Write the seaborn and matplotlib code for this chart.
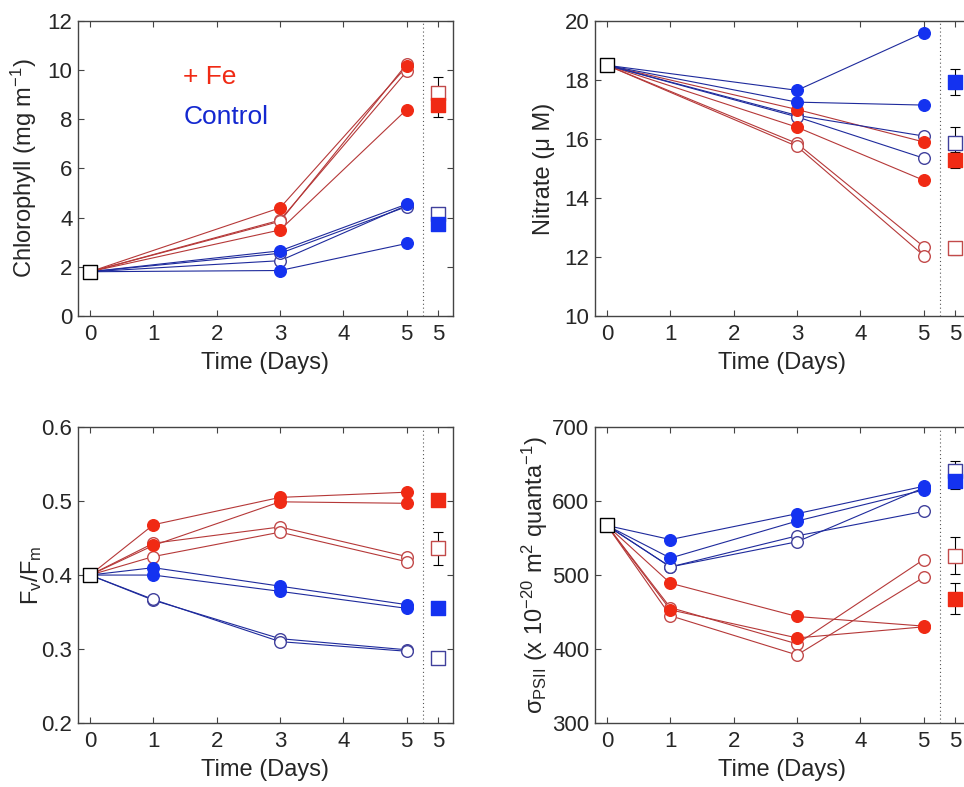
import numpy as np
import pandas as pd
import matplotlib
matplotlib.use("Agg")
import matplotlib.pyplot as plt
import seaborn as sns

# ---- data ----
days_top = [0, 3, 5]
days_bot = [0, 1, 3, 5]

# chlorophyll (mg m-1)
chl_fe_filled = [[1.8, 4.4, 10.15], [1.8, 3.5, 8.4]]
chl_fe_open = [[1.8, 3.9, 9.95], [1.8, 3.85, 10.25]]
chl_ctl_filled = [[1.8, 2.65, 4.55], [1.8, 1.85, 2.95]]
chl_ctl_open = [[1.8, 2.25, 4.5], [1.8, 2.55, 4.45]]
chl_summary = {"fe_open": (9.07, 0.65), "fe_filled": (8.6, 0.5),
               "ctl_open": (4.15, 0.1), "ctl_filled": (3.75, 0.1)}

# nitrate (uM)
no3_fe_filled = [[18.5, 17.0, 15.9], [18.5, 16.4, 14.6]]
no3_fe_open = [[18.5, 15.85, 12.35], [18.5, 15.75, 12.05]]
no3_ctl_filled = [[18.5, 17.65, 19.6], [18.5, 17.25, 17.15]]
no3_ctl_open = [[18.5, 16.8, 16.1], [18.5, 16.75, 15.35]]
no3_summary = {"fe_open": (12.29, 0.22), "fe_filled": (15.28, 0.28),
               "ctl_open": (15.85, 0.55), "ctl_filled": (17.93, 0.45)}

# Fv/Fm
fv_fe_filled = [[0.4, 0.468, 0.505, 0.512], [0.4, 0.44, 0.499, 0.497]]
fv_fe_open = [[0.4, 0.443, 0.465, 0.425], [0.4, 0.425, 0.458, 0.418]]
fv_ctl_filled = [[0.4, 0.41, 0.385, 0.36], [0.4, 0.40, 0.378, 0.355]]
fv_ctl_open = [[0.4, 0.366, 0.314, 0.299], [0.4, 0.367, 0.31, 0.297]]
fv_summary = {"fe_open": (0.436, 0.022), "fe_filled": (0.502, 0.005),
              "ctl_open": (0.288, 0.005), "ctl_filled": (0.355, 0.005)}

# sigma PSII
sig_fe_filled = [[567, 489, 444, 431], [567, 453, 415, 430]]
sig_fe_open = [[567, 456, 407, 521], [567, 445, 392, 497]]
sig_ctl_filled = [[567, 548, 583, 620], [567, 523, 573, 615]]
sig_ctl_open = [[567, 511, 553, 586], [567, 511, 545, 618]]
sig_summary = {"fe_open": (526, 25), "fe_filled": (468, 21),
               "ctl_open": (641, 13), "ctl_filled": (627, 10)}

xtick_pos = [0, 1, 2, 3, 4, 5, 5.5]
xtick_lab = ["0", "1", "2", "3", "4", "5", "5"]

red_fill = "#f02a14"
red_line = "#b53838"
red_edge = "#c24a4a"
blue_fill = "#1432f0"
blue_line = "#1e2a9c"
blue_edge = "#40409c"

sns.set_style("ticks")
plt.rcParams["font.family"] = ["Liberation Sans", "DejaVu Sans"]
plt.rcParams["mathtext.default"] = "regular"
plt.rcParams["xtick.direction"] = "in"
plt.rcParams["ytick.direction"] = "in"
plt.rcParams["xtick.top"] = True
plt.rcParams["ytick.right"] = True


def long_df(days, series):
    rows = []
    for i, vals in enumerate(series):
        for d, v in zip(days, vals):
            rows.append({"day": d, "value": v, "rep": i})
    return pd.DataFrame(rows)


def panel(ax, days, fe_filled, fe_open, ctl_filled, ctl_open, summary,
          ylim, yticks, ylabels, ylabel, label_x):
    groups = [
        (fe_open, red_line, "white", red_edge),
        (fe_filled, red_line, red_fill, red_fill),
        (ctl_open, blue_line, "white", blue_edge),
        (ctl_filled, blue_line, blue_fill, blue_fill),
    ]
    # lines first
    for series, lc, fc, ec in groups:
        df = long_df(days, series)
        sns.lineplot(data=df, x="day", y="value", units="rep", estimator=None,
                     color=lc, lw=0.8, ax=ax, legend=False, zorder=2)
    # day 0 square
    start = pd.DataFrame({"day": [0], "value": [fe_filled[0][0]]})
    sns.scatterplot(data=start, x="day", y="value", marker="s", s=110,
                    color="white", edgecolor="black", linewidth=1, ax=ax, zorder=5)
    # circle markers: open then filled
    for series, lc, fc, ec in [groups[0], groups[2], groups[1], groups[3]]:
        df = long_df(days, series)
        df = df[df["day"] > 0]
        sns.scatterplot(data=df, x="day", y="value", marker="o", s=70,
                        color=fc, edgecolor=ec, linewidth=1, ax=ax,
                        legend=False, zorder=4)
    # summary squares at day 5 (offset column)
    sq = [("fe_open", "white", red_edge), ("ctl_open", "white", blue_edge),
          ("fe_filled", red_fill, red_fill), ("ctl_filled", blue_fill, blue_fill)]
    for key, fc, ec in sq:
        m, e = summary[key]
        ax.errorbar([5.5], [m], yerr=[e], fmt="none", ecolor="black",
                    elinewidth=0.8, capsize=3.6, capthick=0.8, zorder=3)
        d = pd.DataFrame({"day": [5.5], "value": [m]})
        sns.scatterplot(data=d, x="day", y="value", marker="s", s=115,
                        color=fc, edgecolor=ec, linewidth=1, ax=ax,
                        legend=False, zorder=4)
    ax.axvline(5.25, color="#555555", lw=0.8, ls=(0, (1, 2.5)), zorder=1)
    ax.set_xlim(-0.19, 5.73)
    ax.set_ylim(*ylim)
    ax.set_xticks(xtick_pos)
    ax.set_xticklabels(xtick_lab, fontsize=16)
    ax.set_yticks(yticks)
    ax.set_yticklabels(ylabels, fontsize=16)
    ax.tick_params(axis="x", length=4, pad=6, color="#444444")
    ax.tick_params(axis="y", length=4, pad=4, color="#444444")
    for sp in ax.spines.values():
        sp.set_color("#444444")
        sp.set_linewidth(1)
    ax.set_xlabel("Time (Days)", fontsize=17, labelpad=5)
    ax.set_ylabel(ylabel, fontsize=17)
    ax.yaxis.set_label_coords(label_x, 0.5)


fig = plt.figure(figsize=(9.64, 7.87), dpi=100)
ax_tl = fig.add_axes([0.0809, 0.5985, 0.389, 0.3748])
ax_tr = fig.add_axes([0.6172, 0.5985, 0.389, 0.3748])
ax_bl = fig.add_axes([0.0809, 0.0813, 0.389, 0.376])
ax_br = fig.add_axes([0.6172, 0.0813, 0.389, 0.376])

panel(ax_tl, days_top, chl_fe_filled, chl_fe_open, chl_ctl_filled, chl_ctl_open,
      chl_summary, (0, 12), [0, 2, 4, 6, 8, 10, 12],
      ["0", "2", "4", "6", "8", "10", "12"],
      "Chlorophyll (mg m$^{-1}$)", -0.104)
panel(ax_tr, days_top, no3_fe_filled, no3_fe_open, no3_ctl_filled, no3_ctl_open,
      no3_summary, (10, 20), [10, 12, 14, 16, 18, 20],
      ["10", "12", "14", "16", "18", "20"],
      "Nitrate (\u03bc M)", -0.107)
panel(ax_bl, days_bot, fv_fe_filled, fv_fe_open, fv_ctl_filled, fv_ctl_open,
      fv_summary, (0.2, 0.6), [0.2, 0.3, 0.4, 0.5, 0.6],
      ["0.2", "0.3", "0.4", "0.5", "0.6"],
      "F$_v$/F$_m$", -0.09)
panel(ax_br, days_bot, sig_fe_filled, sig_fe_open, sig_ctl_filled, sig_ctl_open,
      sig_summary, (300, 700), [300, 400, 500, 600, 700],
      ["300", "400", "500", "600", "700"],
      "\u03c3$_{PSII}$ (x 10$^{-20}$ m$^2$ quanta$^{-1}$)", -0.12)

ax_tl.text(1.47, 9.72, "+ Fe", color=red_fill, fontsize=19, va="center")
ax_tl.text(1.47, 8.1, "Control", color="#1428d0", fontsize=19, va="center")

fig.savefig("out.png", dpi=100)
